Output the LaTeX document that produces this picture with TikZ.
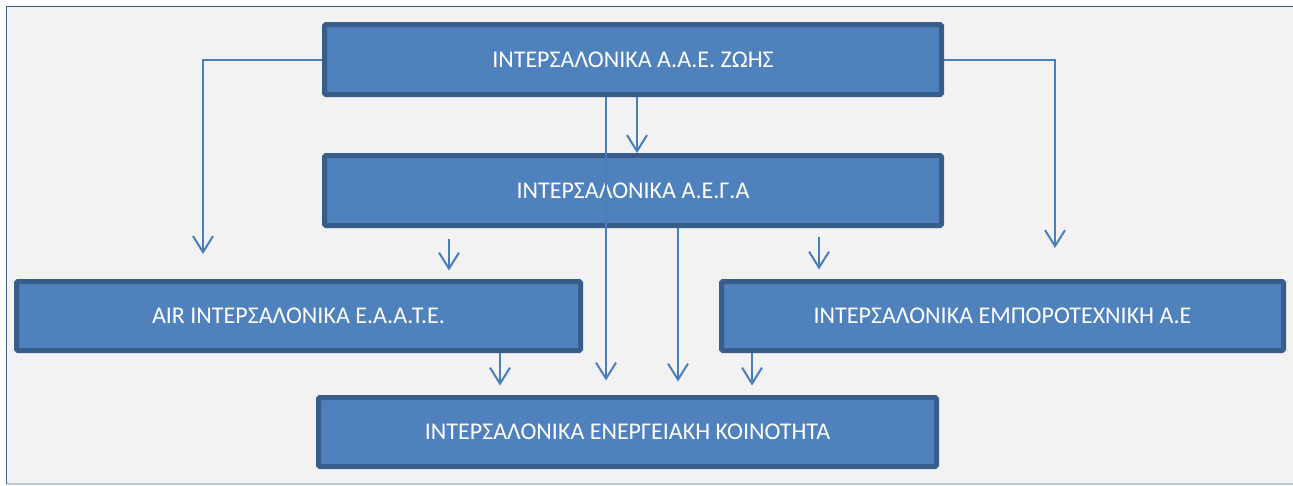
\documentclass[tikz,border=0pt]{standalone}
\usepackage{fontspec}
\setmainfont{Carlito}
\usetikzlibrary{arrows.meta}
\definecolor{boxfill}{HTML}{4F81BD}
\definecolor{boxline}{HTML}{385D8A}
\definecolor{linkcol}{HTML}{4A7EBB}
\definecolor{paper}{HTML}{F2F2F2}
\definecolor{frameline}{HTML}{3F6393}
\definecolor{frameedge}{HTML}{B9C9DB}
\begin{document}
\begin{tikzpicture}[x=1pt,y=-1pt,
    company/.style={draw=boxline,fill=boxfill,line width=5pt,rounded corners=1.5pt,
      inner sep=0pt,text=white,font=\fontsize{24}{28}\selectfont},
    link/.style={draw=linkcol,line width=2pt,
      -{Straight Barb[length=16pt,width=20pt,line width=2pt]}}]
\useasboundingbox (0,0) rectangle (1293,485);
\fill[white] (0,0) rectangle (1293,485);
\fill[paper] (6.5,6.5) rectangle (1293,484);
\draw[frameedge,line width=1.5pt] (6.5,484) -- (1293,484);
\draw[frameline,line width=1.8pt] (6.5,484) -- (6.5,6.5) -- (1293,6.5);

\node[company,minimum width=617pt,minimum height=70pt] (zoe) at (633,59.5) {ΙΝΤΕΡΣΑΛΟΝΙΚΑ Α.Α.Ε. ΖΩΗΣ};
\node[company,minimum width=617pt,minimum height=70pt] (aega) at (633,190.5) {ΙΝΤΕΡΣΑΛΟΝΙΚΑ Α.Ε.Γ.Α};
\node[company,minimum width=564pt,minimum height=69pt] (air) at (298.5,316) {AIR ΙΝΤΕΡΣΑΛΟΝΙΚΑ Ε.Α.Α.Τ.Ε.};
\node[company,minimum width=562pt,minimum height=69pt] (empor) at (1002.5,316) {ΙΝΤΕΡΣΑΛΟΝΙΚΑ ΕΜΠΟΡΟΤΕΧΝΙΚΗ Α.Ε};
\node[company,minimum width=618pt,minimum height=69pt] (energ) at (627.5,432) {ΙΝΤΕΡΣΑΛΟΝΙΚΑ ΕΝΕΡΓΕΙΑΚΗ ΚΟΙΝΟΤΗΤΑ};

\coordinate (xl) at (203,0);
\coordinate (xr) at (1055,0);
\coordinate (xa) at (606,0);
\coordinate (xb) at (637,0);
\coordinate (xc) at (449,0);
\coordinate (xd) at (678,0);
\coordinate (xe) at (819,0);
\coordinate (xf) at (500,0);
\coordinate (xg) at (752,0);

\draw[link,shorten >=25pt] (zoe.west) -| (air.north -| xl);
\draw[link,shorten >=31pt] (zoe.east) -| (empor.north -| xr);
\draw[link,shorten >=14.5pt] (zoe.south -| xa) -- (energ.north -| xa);
\draw[link] (zoe.south -| xb) -- (aega.north -| xb);
\draw[link,shorten <=10.5pt,shorten >=8.5pt] (aega.south -| xc) -- (air.north -| xc);
\draw[link,shorten <=8.5pt,shorten >=9.5pt] (aega.south -| xe) -- (empor.north -| xe);
\draw[link,shorten >=13.5pt] (aega.south -| xd) -- (energ.north -| xd);
\draw[link,shorten >=9.5pt] (air.south -| xf) -- (energ.north -| xf);
\draw[link,shorten >=9.5pt] (empor.south -| xg) -- (energ.north -| xg);
\end{tikzpicture}
\end{document}
